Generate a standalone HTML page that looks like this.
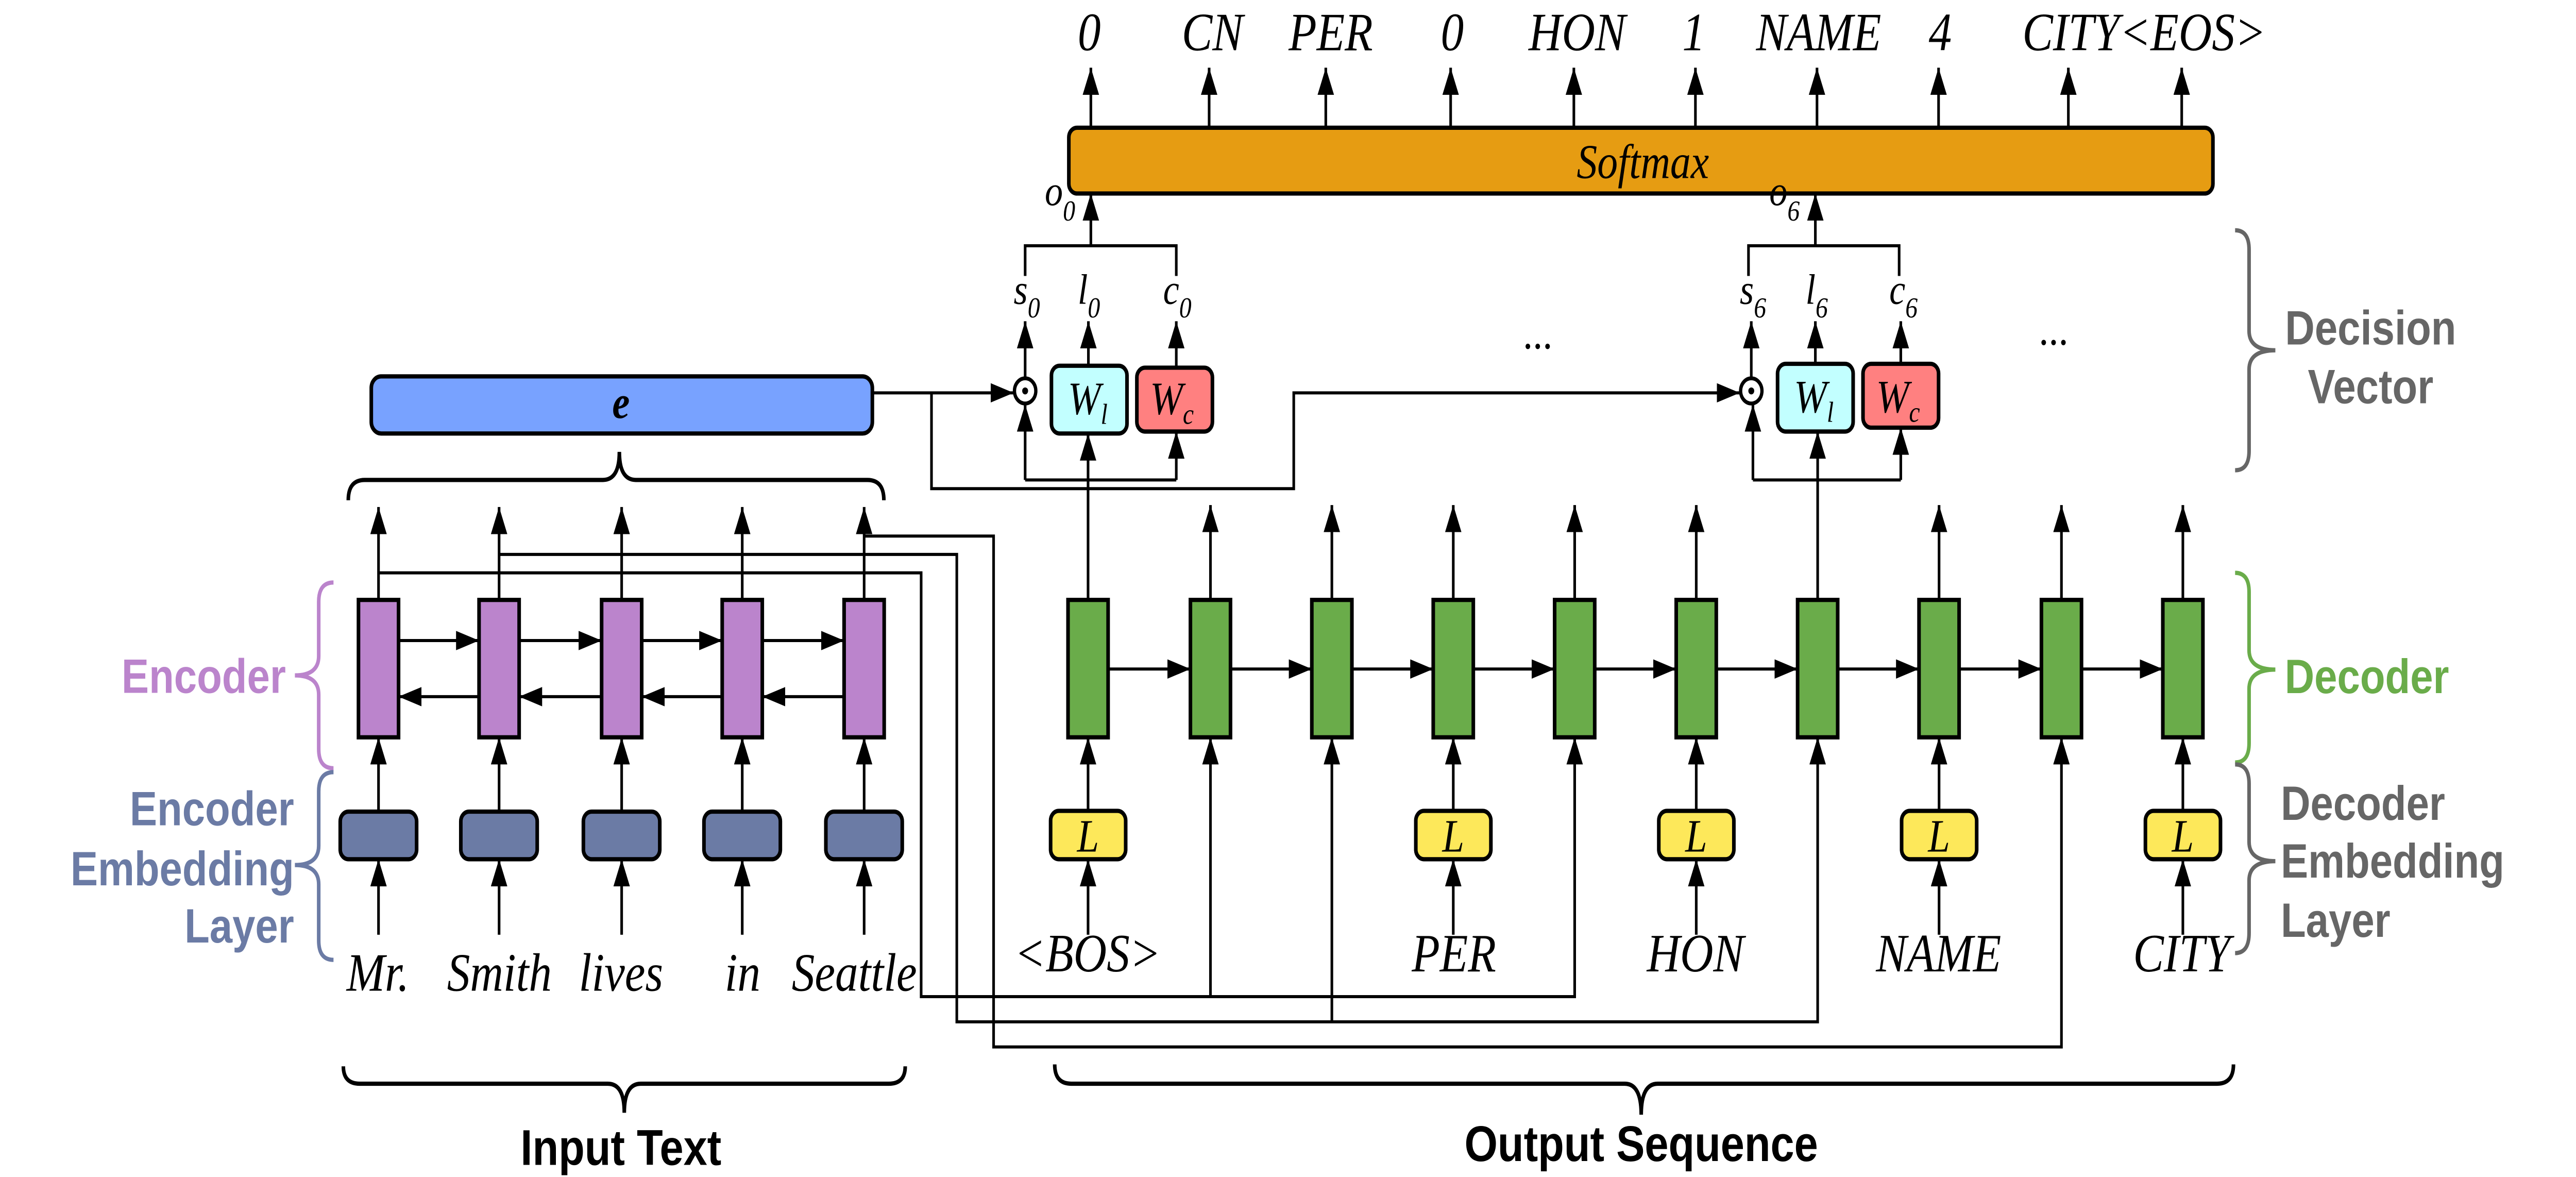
<!DOCTYPE html>
<html><head><meta charset="utf-8"><style>
html,body{margin:0;padding:0;background:#fff;overflow:hidden;width:100%;height:100%}
svg{display:block;width:100vw;height:100vh}
.t{font-family:"Liberation Serif",serif;font-style:italic}
.b{font-family:"Liberation Sans",sans-serif;font-weight:bold}
</style></head><body>
<svg viewBox="0 0 1568 608.2" preserveAspectRatio="none" xmlns="http://www.w3.org/2000/svg">
<defs>
<marker id="a" markerWidth="14" markerHeight="10" refX="14" refY="5" orient="auto" markerUnits="userSpaceOnUse"><path d="M0,0 L14,5 L0,10z" fill="#000"/></marker>
</defs>
<rect width="1568" height="608.2" fill="#fff"/>
<g stroke="#000" stroke-width="1.6" fill="none" marker-end="url(#a)">
<path d="M664,66V35"/><path d="M736,66V35"/><path d="M807,66V35"/><path d="M883,66V35"/><path d="M958,66V35"/>
<path d="M1032,66V35"/><path d="M1106,66V35"/><path d="M1180,66V35"/><path d="M1259,66V35"/><path d="M1328,66V35"/>
<path d="M664,127V100"/><path d="M1105,127V100"/>
<path d="M624,195V166"/><path d="M662.5,189V166"/><path d="M716,190V166"/>
<path d="M1066,195V166"/><path d="M1105,188V166"/><path d="M1157,188V166"/>
<path d="M624,248V209"/><path d="M716,248V223"/><path d="M662.3,310V224"/>
<path d="M1067,248V209"/><path d="M1157,248V221"/><path d="M1106.4,310V223"/>
<path d="M531,203H617"/>
<path d="M567,203V252.5H787.5V203H1059"/>
<path d="M230.4,310V262"/><path d="M303.8,310V262"/><path d="M378.4,310V262"/><path d="M451.8,310V262"/><path d="M526,310V262"/>
<path d="M230.4,419V381"/><path d="M303.8,419V381"/><path d="M378.4,419V381"/><path d="M451.8,419V381"/><path d="M526,419V381"/>
<path d="M230.4,483V444"/><path d="M303.8,483V444"/><path d="M378.4,483V444"/><path d="M451.8,483V444"/><path d="M526,483V444"/>
<path d="M242.6,331H291.6"/><path d="M316,331H366.2"/><path d="M390.6,331H439.6"/><path d="M464,331H513.8"/>
<path d="M291.6,360H242.6"/><path d="M366.2,360H316"/><path d="M439.6,360H390.6"/><path d="M513.8,360H464"/>
<path d="M736.8,310V261"/><path d="M810.7,310V261"/><path d="M884.6,310V261"/><path d="M958.5,310V261"/><path d="M1032.5,310V261"/>
<path d="M1180.3,310V261"/><path d="M1254.8,310V261"/><path d="M1328.7,310V261"/>
<path d="M674.5,345.7H724.6"/><path d="M749,345.7H798.5"/><path d="M822.9,345.7H872.4"/><path d="M896.8,345.7H946.3"/><path d="M970.7,345.7H1020.3"/>
<path d="M1044.7,345.7H1094.2"/><path d="M1118.6,345.7H1168.1"/><path d="M1192.5,345.7H1242.6"/><path d="M1267,345.7H1316.5"/>
<path d="M662.3,419V381"/><path d="M884.6,419V381"/><path d="M1032.5,419V381"/><path d="M1180.3,419V381"/><path d="M1328.7,419V381"/>
<path d="M662.3,483V444"/><path d="M884.6,483V444"/><path d="M1032.5,483V444"/><path d="M1180.3,483V444"/><path d="M1328.7,483V444"/>
<path d="M230.4,296H560.7V515H958.5V381"/><path d="M736.8,515V381"/>
<path d="M303.8,286.5H582.4V528H1106.4V381"/><path d="M810.7,528V381"/>
<path d="M526,277H604.8V541H1254.8V381"/>
</g>
<g stroke="#000" stroke-width="1.6" fill="none">
<path d="M624,142.6V127H716V142.6"/><path d="M1064.3,142.6V127H1156V142.6"/>
<path d="M624,248H716"/><path d="M1067,248H1157"/>
</g>
<rect x="650.6" y="66" width="696.4" height="34" rx="5" fill="#E69C12" stroke="#000" stroke-width="2.2"/>
<text x="1000" y="92" class="t" font-size="25" text-anchor="middle">Softmax</text>
<g class="t" font-size="28" text-anchor="middle">
<text x="663" y="26">0</text><text x="738" y="26">CN</text><text x="810" y="26">PER</text><text x="884" y="26">0</text>
<text x="960" y="26">HON</text><text x="1031" y="26">1</text><text x="1107" y="26">NAME</text><text x="1181" y="26">4</text>
<text x="1231" y="26" text-anchor="start">CITY&lt;EOS&gt;</text>
</g>
<g class="t" font-size="22">
<text x="636" y="106">o<tspan font-size="15" dy="8">0</tspan></text>
<text x="1077" y="106">o<tspan font-size="15" dy="8">6</tspan></text>
<text x="617" y="157">s<tspan font-size="15" dy="7">0</tspan></text>
<text x="656" y="157">l<tspan font-size="15" dy="7">0</tspan></text>
<text x="708" y="157">c<tspan font-size="15" dy="7">0</tspan></text>
<text x="1059" y="157">s<tspan font-size="15" dy="7">6</tspan></text>
<text x="1099" y="157">l<tspan font-size="15" dy="7">6</tspan></text>
<text x="1150" y="157">c<tspan font-size="15" dy="7">6</tspan></text>
</g>
<text x="936" y="180" font-family="Liberation Serif,serif" font-size="24" text-anchor="middle">...</text>
<text x="1250" y="178" font-family="Liberation Serif,serif" font-size="24" text-anchor="middle">...</text>
<g stroke="#000" stroke-width="2" fill="#fff">
<circle cx="624" cy="202" r="6.5"/><circle cx="1066" cy="202" r="6.5"/>
</g>
<circle cx="624" cy="202" r="1.8"/><circle cx="1066" cy="202" r="1.8"/>
<g stroke="#000" stroke-width="2.2">
<rect x="640" y="189" width="46" height="35" rx="5" fill="#C2FFFF"/>
<rect x="692" y="190" width="46" height="33" rx="5" fill="#FF8080"/>
<rect x="1082" y="188" width="46" height="35" rx="5" fill="#C2FFFF"/>
<rect x="1134" y="188" width="46" height="33" rx="5" fill="#FF8080"/>
</g>
<g class="t" font-size="24">
<text x="650" y="214">W<tspan font-size="15" dy="5">l</tspan></text>
<text x="700" y="214">W<tspan font-size="15" dy="5">c</tspan></text>
<text x="1092" y="213">W<tspan font-size="15" dy="5">l</tspan></text>
<text x="1142" y="213">W<tspan font-size="15" dy="5">c</tspan></text>
</g>
<rect x="226" y="194.5" width="305" height="29.5" rx="6" fill="#78A2FF" stroke="#000" stroke-width="2.2"/>
<text x="378" y="216" class="t" font-weight="bold" font-size="24" text-anchor="middle">e</text>
<g stroke="#000" stroke-width="2.2" fill="#BB84CC">
<rect x="218.2" y="310" width="24.4" height="71"/><rect x="291.6" y="310" width="24.4" height="71"/><rect x="366.2" y="310" width="24.4" height="71"/><rect x="439.6" y="310" width="24.4" height="71"/><rect x="513.8" y="310" width="24.4" height="71"/>
</g>
<g stroke="#000" stroke-width="2.2" fill="#6B7BA5">
<rect x="207.1" y="419.4" width="46.5" height="24.6" rx="5"/><rect x="280.5" y="419.4" width="46.5" height="24.6" rx="5"/><rect x="355.1" y="419.4" width="46.5" height="24.6" rx="5"/><rect x="428.5" y="419.4" width="46.5" height="24.6" rx="5"/><rect x="502.7" y="419.4" width="46.5" height="24.6" rx="5"/>
</g>
<g class="t" font-size="28" text-anchor="middle">
<text x="230" y="512">Mr.</text><text x="304" y="512">Smith</text><text x="378" y="512">lives</text><text x="452" y="512">in</text><text x="520" y="512">Seattle</text>
</g>
<g stroke="#000" stroke-width="2.2" fill="#6AAC4A">
<rect x="650.1" y="310" width="24.4" height="71"/><rect x="724.6" y="310" width="24.4" height="71"/><rect x="798.5" y="310" width="24.4" height="71"/><rect x="872.4" y="310" width="24.4" height="71"/><rect x="946.3" y="310" width="24.4" height="71"/>
<rect x="1020.3" y="310" width="24.4" height="71"/><rect x="1094.2" y="310" width="24.4" height="71"/><rect x="1168.1" y="310" width="24.4" height="71"/><rect x="1242.6" y="310" width="24.4" height="71"/><rect x="1316.5" y="310" width="24.4" height="71"/>
</g>
<g stroke="#000" stroke-width="2.2" fill="#FDE85A">
<rect x="639.5" y="419" width="45.7" height="25" rx="5"/><rect x="861.8" y="419" width="45.7" height="25" rx="5"/><rect x="1009.7" y="419" width="45.7" height="25" rx="5"/><rect x="1157.5" y="419" width="45.7" height="25" rx="5"/><rect x="1305.9" y="419" width="45.7" height="25" rx="5"/>
</g>
<g class="t" font-size="24" text-anchor="middle">
<text x="662.3" y="440">L</text><text x="884.6" y="440">L</text><text x="1032.5" y="440">L</text><text x="1180.3" y="440">L</text><text x="1328.7" y="440">L</text>
</g>
<g class="t" font-size="28" text-anchor="middle">
<text x="662" y="502">&lt;BOS&gt;</text><text x="885" y="502">PER</text><text x="1032" y="502">HON</text><text x="1180" y="502">NAME</text><text x="1328" y="502">CITY</text>
</g>
<g fill="none" stroke-width="2.2">
<path stroke="#BB84CC" d="M203,301Q194,301 194,311V339Q194,349 179.5,349Q194,349 194,359V387Q194,397 203,397"/>
<path stroke="#6B7BA5" d="M203,399Q194,399 194,409V437Q194,447 179.5,447Q194,447 194,457V486Q194,496 203,496"/>
<path stroke="#666" d="M1360.5,119Q1369,119 1369,129V171Q1369,181 1385,181Q1369,181 1369,191V233Q1369,243 1360.5,243"/>
<path stroke="#6AAC4A" d="M1360.5,296Q1369,296 1369,306V336Q1369,346 1385,346Q1369,346 1369,356V384Q1369,394 1360.5,394"/>
<path stroke="#666" d="M1360.5,395Q1369,395 1369,405V435Q1369,445 1385,445Q1369,445 1369,455V482Q1369,492.5 1360.5,492.5"/>
<path stroke="#000" d="M212,258.5Q212,248 222,248H367Q377,248 377,233.5Q377,248 387,248H528Q538,248 538,258.5"/>
<path stroke="#000" d="M209,551Q209,560 219,560H370Q380,560 380,575Q380,560 390,560H541Q551,560 551,551"/>
<path stroke="#000" d="M642,550Q642,560 652,560H989Q999,560 999,576Q999,560 1009,560H1349.5Q1359.5,560 1359.5,550"/>
</g>
<g class="b" font-size="25">
<text x="174" y="358" text-anchor="end" fill="#BB84CC">Encoder</text>
<text x="179" y="426.5" text-anchor="end" fill="#6B7BA5">Encoder</text>
<text x="179" y="457.5" text-anchor="end" fill="#6B7BA5">Embedding</text>
<text x="179" y="487" text-anchor="end" fill="#6B7BA5">Layer</text>
<text x="1443" y="178" text-anchor="middle" fill="#666">Decision</text>
<text x="1443" y="208.4" text-anchor="middle" fill="#666">Vector</text>
<text x="1390.7" y="358.2" fill="#6AAC4A">Decoder</text>
<text x="1388.3" y="423.7" fill="#666">Decoder</text>
<text x="1388.3" y="453.5" fill="#666">Embedding</text>
<text x="1388.3" y="484.1" fill="#666">Layer</text>
</g>
<g class="b" font-size="26" text-anchor="middle" fill="#000">
<text x="378" y="602">Input Text</text>
<text x="999" y="600">Output Sequence</text>
</g>
</svg>
</body></html>
